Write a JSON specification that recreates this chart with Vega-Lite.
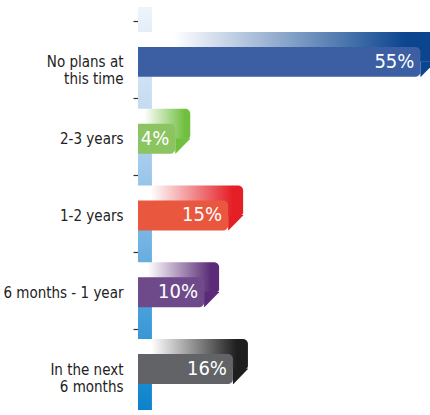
{
  "$schema": "https://vega.github.io/schema/vega-lite/v6.json",
  "width": 292,
  "height": 403,
  "autosize": {"type": "none"},
  "padding": {"left": 138, "top": 7, "right": 0, "bottom": 5},
  "background": "white",
  "config": {"view": {"stroke": null}},
  "data": {"values": [
    {"category": "No plans at this time", "pct": 55, "label": "55%"},
    {"category": "2-3 years", "pct": 4, "label": "4%"},
    {"category": "1-2 years", "pct": 15, "label": "15%"},
    {"category": "6 months - 1 year", "pct": 10, "label": "10%"},
    {"category": "In the next 6 months", "pct": 16, "label": "16%"}
  ]},
  "layer": [
    {
      "data": {"values": [{"part": "wall"}]},
      "mark": {"type": "rect", "fill": {"gradient": "linear", "x1": 0, "y1": 0, "x2": 0, "y2": 1, "stops": [
        {"offset": 0, "color": "#eef4fb"},
        {"offset": 0.3, "color": "#bad6ef"},
        {"offset": 0.62, "color": "#6aafe0"},
        {"offset": 1, "color": "#0a83cb"}
      ]}},
      "encoding": {
        "x": {"datum": -3.75, "type": "quantitative", "scale": {"domain": [-3.75, 57], "nice": false, "zero": false}, "axis": null},
        "x2": {"datum": -0.85}
      }
    },
    {
      "mark": {"type": "bar", "height": {"band": 0.39}, "xOffset": 15, "yOffset": -13.5, "cornerRadiusTopRight": 5, "cornerRadiusBottomRight": 3},
      "encoding": {
        "y": {"field": "category", "type": "nominal", "sort": null, "scale": {"paddingInner": 0, "paddingOuter": 0.1237, "align": 0.789}, "axis": {
          "title": null, "bandPosition": 0, "domain": false, "grid": false,
          "ticks": true, "tickSize": 5, "tickColor": "#333333", "tickWidth": 1.2,
          "labelOffset": 2, "labelPadding": 10, "labelFont": "DejaVu Sans Condensed", "labelFontSize": 15,
          "labelColor": "#222222", "labelAlign": "right", "labelBaseline": "middle", "labelLineHeight": 17, "labelLimit": 200,
          "labelExpr": "datum.value === 'No plans at this time' ? ['No plans at', 'this time'] : datum.value === 'In the next 6 months' ? ['In the next', '6 months'] : datum.label"
        }},
        "x": {"field": "pct", "type": "quantitative"},
        "x2": {"datum": -3.75},
        "fill": {"condition": [
          {"test": "datum.category === 'No plans at this time'", "value": {"gradient": "linear", "x1": 0, "y1": 0, "x2": 1, "y2": 0, "stops": [{"offset": 0, "color": "#ffffff"}, {"offset": 0.12, "color": "#ffffff"}, {"offset": 0.9, "color": "#0b4590"}, {"offset": 1, "color": "#0b4590"}]}},
          {"test": "datum.category === '2-3 years'", "value": {"gradient": "linear", "x1": 0, "y1": 0, "x2": 1, "y2": 0, "stops": [{"offset": 0, "color": "#ffffff"}, {"offset": 0.12, "color": "#ffffff"}, {"offset": 0.9, "color": "#70bf3e"}, {"offset": 1, "color": "#70bf3e"}]}},
          {"test": "datum.category === '1-2 years'", "value": {"gradient": "linear", "x1": 0, "y1": 0, "x2": 1, "y2": 0, "stops": [{"offset": 0, "color": "#ffffff"}, {"offset": 0.12, "color": "#ffffff"}, {"offset": 0.9, "color": "#e41f26"}, {"offset": 1, "color": "#e41f26"}]}},
          {"test": "datum.category === '6 months - 1 year'", "value": {"gradient": "linear", "x1": 0, "y1": 0, "x2": 1, "y2": 0, "stops": [{"offset": 0, "color": "#ffffff"}, {"offset": 0.12, "color": "#ffffff"}, {"offset": 0.9, "color": "#5b2b77"}, {"offset": 1, "color": "#5b2b77"}]}}
        ], "value": {"gradient": "linear", "x1": 0, "y1": 0, "x2": 1, "y2": 0, "stops": [{"offset": 0, "color": "#ffffff"}, {"offset": 0.12, "color": "#ffffff"}, {"offset": 0.9, "color": "#1e1e1e"}, {"offset": 1, "color": "#1e1e1e"}]}}
      }
    },
    {
      "mark": {"type": "point", "shape": "M0,-0.5 L15,-0.5 L15,0 L0.5,14.8 L0,14.8 Z", "size": 4, "filled": true, "opacity": 1, "strokeWidth": 0, "yOffset": 1.5},
      "encoding": {
        "y": {"field": "category", "type": "nominal", "sort": null},
        "x": {"field": "pct", "type": "quantitative"},
        "fill": {"condition": [
          {"test": "datum.category === 'No plans at this time'", "value": "#0b4590"},
          {"test": "datum.category === '2-3 years'", "value": "#70bf3e"},
          {"test": "datum.category === '1-2 years'", "value": "#e41f26"},
          {"test": "datum.category === '6 months - 1 year'", "value": "#5b2b77"}
        ], "value": "#1e1e1e"}
      }
    },
    {
      "mark": {"type": "bar", "height": {"band": 0.39}, "yOffset": 1.5, "cornerRadiusTopRight": 5, "cornerRadiusBottomRight": 5},
      "encoding": {
        "y": {"field": "category", "type": "nominal", "sort": null},
        "x": {"field": "pct", "type": "quantitative"},
        "x2": {"datum": -3.75},
        "fill": {"field": "category", "type": "nominal", "legend": null, "scale": {
          "domain": ["No plans at this time", "2-3 years", "1-2 years", "6 months - 1 year", "In the next 6 months"],
          "range": ["#3b5fa2", "#8cc462", "#e9573f", "#6e4a8b", "#616366"]
        }}
      }
    },
    {
      "mark": {"type": "text", "align": "right", "baseline": "middle", "dx": -6, "yOffset": 1.5, "font": "DejaVu Sans Condensed", "fontSize": 20, "color": "#ffffff"},
      "encoding": {
        "y": {"field": "category", "type": "nominal", "sort": null},
        "x": {"field": "pct", "type": "quantitative"},
        "text": {"field": "label"}
      }
    }
  ]
}
